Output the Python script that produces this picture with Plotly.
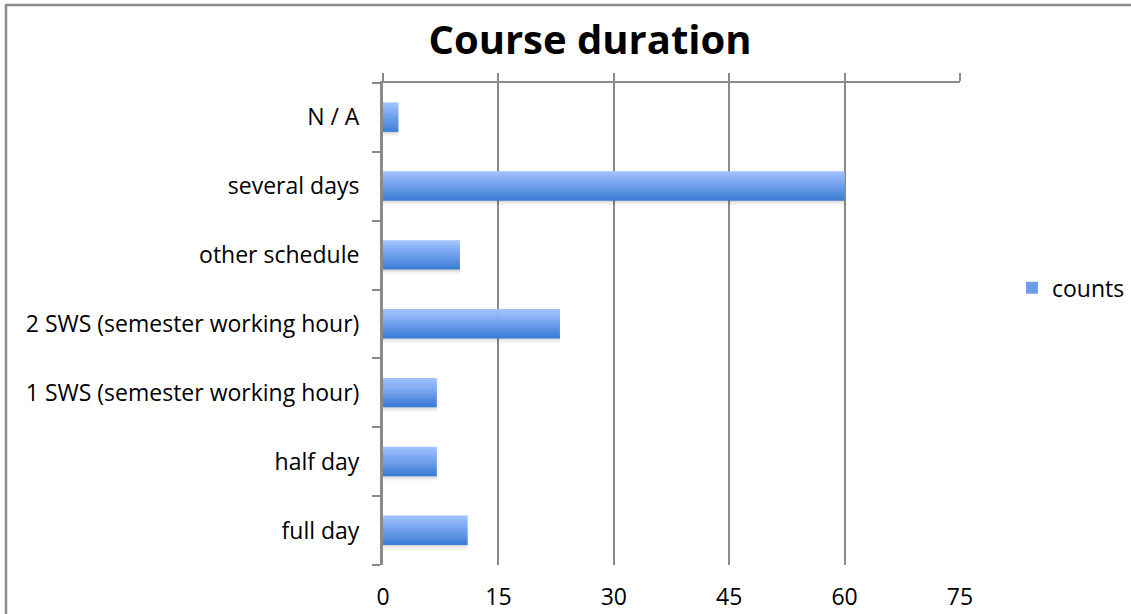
import plotly.graph_objects as go

# categories listed bottom -> top, as in the chart
CATEGORIES = [
    "full day",
    "half day",
    "1 SWS (semester working hour)",
    "2 SWS (semester working hour)",
    "other schedule",
    "several days",
    "N / A",
]
COUNTS = [11, 7, 7, 23, 10, 60, 2]
X_TICKS = [0, 15, 30, 45, 60, 75]

FONT = "'Open Sans', Lato, sans-serif"
GRID = "#8a8a8a"

BAR_W = 0.42
N_STRIPES = 14
TOP_RGB = (160, 193, 255)
BOT_RGB = (62, 126, 214)


def _mix(t):
    r, g, b = (round(a + (c - a) * t) for a, c in zip(TOP_RGB, BOT_RGB))
    return f"rgb({r},{g},{b})"


fig = go.Figure()

# soft drop shadow under each bar
for i, alpha in enumerate([0.16, 0.09, 0.04]):
    fig.add_trace(go.Bar(
        x=COUNTS, y=CATEGORIES, orientation="h",
        width=0.025, offset=-BAR_W / 2 - 0.025 * (i + 1) + 0.01,
        marker=dict(color=f"rgba(0,0,0,{alpha})", line_width=0),
        showlegend=False, hoverinfo="skip",
    ))

# vertical gradient built from thin stripes (top light -> bottom dark)
sw = BAR_W / N_STRIPES
for i in range(N_STRIPES):
    t = i / (N_STRIPES - 1)
    fig.add_trace(go.Bar(
        x=COUNTS, y=CATEGORIES, orientation="h",
        width=sw * 1.25, offset=BAR_W / 2 - sw * (i + 1),
        marker=dict(color=_mix(t), line_width=0),
        name="counts",
        showlegend=(i == N_STRIPES // 2),
        hovertemplate="%{y}: %{x}<extra></extra>",
    ))

# invisible trace so the top axis is drawn
fig.add_trace(go.Scatter(x=[0], y=[CATEGORIES[0]], xaxis="x2", mode="markers",
                         marker=dict(opacity=0), showlegend=False, hoverinfo="skip"))

fig.update_layout(
    template="none",
    width=1131, height=614,
    margin=dict(l=383, r=171, t=83, b=49, autoexpand=False),
    paper_bgcolor="white", plot_bgcolor="white",
    barmode="overlay",
    font=dict(family=FONT, size=23, color="black"),
    title=dict(text="<b>Course duration</b>", x=590 / 1131, xanchor="center",
               xref="container", yref="container", y=1 - 40 / 614,
               yanchor="middle", font=dict(size=40, family=FONT)),
    legend=dict(x=1.09, y=0.575, yanchor="middle", xanchor="left",
                font=dict(size=23), itemwidth=30, bgcolor="rgba(0,0,0,0)"),
    xaxis=dict(
        range=[0, 75], tickvals=X_TICKS, showgrid=True, gridcolor=GRID,
        gridwidth=2, zeroline=False, showline=False, ticks="",
        ticklabelstandoff=16, fixedrange=True, automargin=False,
    ),
    xaxis2=dict(
        overlaying="x", side="top", range=[0, 75], tickvals=X_TICKS,
        showticklabels=False, showgrid=False, zeroline=False,
        showline=True, linecolor=GRID, linewidth=2, automargin=False,
        ticks="outside", ticklen=8, tickwidth=2, tickcolor=GRID,
    ),
    yaxis=dict(
        type="category", categoryorder="array", categoryarray=CATEGORIES,
        range=[-0.5, len(CATEGORIES) - 0.5], automargin=False,
        showline=True, linecolor=GRID, linewidth=3,
        ticks="outside", tickson="boundaries", ticklen=8, tickwidth=2,
        tickcolor=GRID, ticklabelstandoff=16, showgrid=False,
    ),
    shapes=[dict(
        type="rect", xref="paper", yref="paper",
        x0=(6 - 383) / 577, x1=1.5, y0=-0.3, y1=(565 - 5) / 482,
        line=dict(color="#8c8c8c", width=2.5), fillcolor="rgba(0,0,0,0)",
        layer="below",
    )],
)

# page has a default body margin; drop it so the figure sits at the corner
fig.write_html("out.html", config={"displayModeBar": False},
               post_script="document.body.style.margin='0';")
